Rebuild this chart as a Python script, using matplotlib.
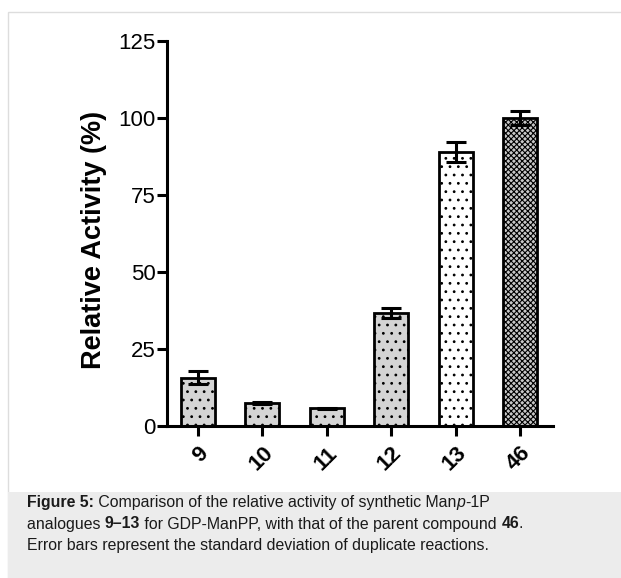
import numpy as np
import matplotlib
matplotlib.use("Agg")
import matplotlib.pyplot as plt
import matplotlib.patches as mpatches
import matplotlib.transforms as mtransforms

plt.rcParams['font.family'] = ['Liberation Sans', 'DejaVu Sans']
plt.rcParams['hatch.linewidth'] = 0.8

# data
compounds = ['9', '10', '11', '12', '13', '46']
activity = [15.6, 7.5, 5.8, 36.8, 89.0, 100.0]
sd = [2.1, 0.3, 0.2, 1.6, 3.3, 2.3]
fills = ['#d4d4d4', '#d4d4d4', '#d4d4d4', '#d4d4d4', 'white', '#c8c8c8']
hatches = ['..', '..', '..', '..', '..', 'xxxxxx']

# caption runs: (text, weight, style)
caption = [
    [('Figure 5:', 'bold', 'normal'), (' Comparison of the relative activity of synthetic Man', 'normal', 'normal'),
     ('p', 'normal', 'italic'), ('-1P', 'normal', 'normal')],
    [('analogues ', 'normal', 'normal'), ('9–13', 'bold', 'normal'),
     (' for GDP-ManPP, with that of the parent compound ', 'normal', 'normal'), ('46', 'bold', 'normal'),
     ('.', 'normal', 'normal')],
    [('Error bars represent the standard deviation of duplicate reactions.', 'normal', 'normal')],
]

fig = plt.figure(figsize=(6.21, 5.78), dpi=100)

# page frame and caption box
fig.patches.append(mpatches.Rectangle((8/621, 0), 1, 1 - 12/578, transform=fig.transFigure,
                                      facecolor='white', edgecolor='#dddddd', lw=1.0, zorder=-2))
fig.patches.append(mpatches.Rectangle((8/621, 0), 1, 1 - 492/578, transform=fig.transFigure,
                                      facecolor='#ececec', edgecolor='none', zorder=-1))

ax = fig.add_axes([167/621, 1 - 426/578, 386/621, 385/578])
ax.set_zorder(2)
ax.patch.set_alpha(0)
x = np.arange(len(compounds))
for i in range(len(compounds)):
    ax.bar(x[i], activity[i], width=0.53, color=fills[i], edgecolor='black',
           linewidth=2.0, hatch=hatches[i], zorder=2)
ax.errorbar(x, activity, yerr=sd, fmt='none', ecolor='black', elinewidth=2.2,
            capsize=7, capthick=2.2, zorder=3)

ax.set_xlim(-0.48, 5.51)
ax.set_ylim(0, 125)
ax.set_yticks([0, 25, 50, 75, 100, 125])
ax.set_xticks(x)
ax.set_xticklabels(compounds, rotation=45, ha='right', rotation_mode='anchor',
                   fontsize=16, fontweight='bold')
shift = mtransforms.ScaledTranslation(-4/100, -3/100, fig.dpi_scale_trans)
for lab in ax.get_xticklabels():
    lab.set_transform(lab.get_transform() + shift)
ax.tick_params(axis='y', labelsize=16, length=7, width=2.2, pad=1)
ax.tick_params(axis='x', length=7, width=2.2, pad=5)
ax.spines['top'].set_visible(False)
ax.spines['right'].set_visible(False)
ax.spines['left'].set_linewidth(2.2)
ax.spines['bottom'].set_linewidth(2.2)
ax.set_ylabel('Relative Activity (%)', fontsize=19.5, fontweight='bold')
ax.yaxis.set_label_coords(-0.155, 0.483)

renderer = fig.canvas.get_renderer()
for k, runs in enumerate(caption):
    xpos = 27
    ypos = 578 - (507 + 21.5*k)
    for txt, weight, style in runs:
        t = fig.text(xpos/621, ypos/578, txt, fontsize=11.4, color='#1a1a1a', va='baseline',
                     fontweight=weight, fontstyle=style, zorder=3)
        bb = t.get_window_extent(renderer)
        xpos += bb.width

fig.savefig('out.png', dpi=100)
